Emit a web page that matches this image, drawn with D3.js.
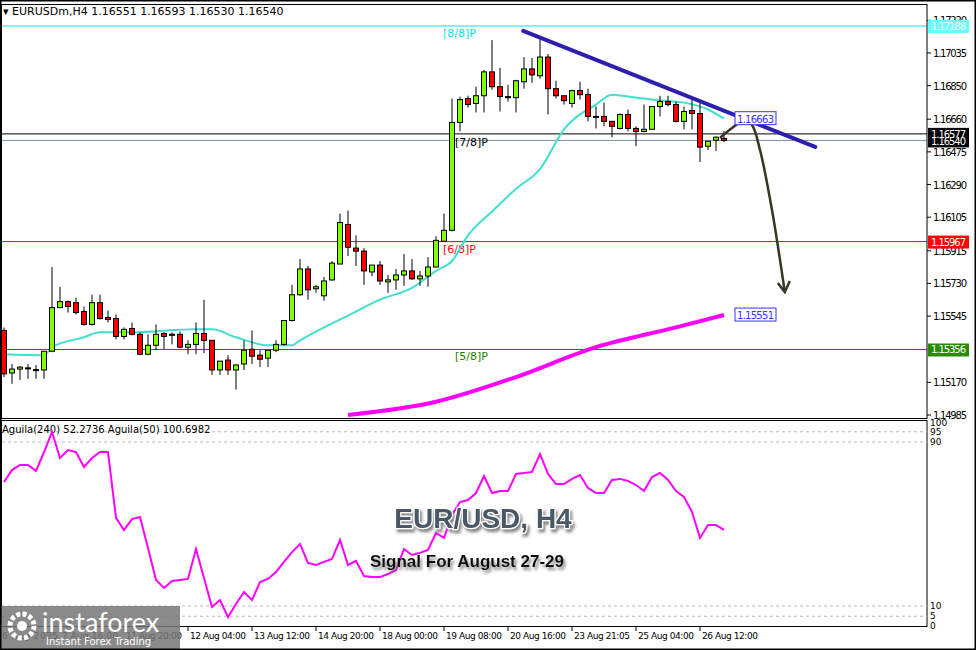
<!DOCTYPE html>
<html><head><meta charset="utf-8">
<script src="https://cdn.jsdelivr.net/npm/d3@7/dist/d3.min.js"></script>
<style>body{margin:0;background:#fff;}svg{display:block;font-family:Tahoma,"DejaVu Sans",sans-serif;}</style>
</head><body><svg id="c" width="976" height="650"></svg>
<script>
const opens=[1.15464,1.15223,1.15245,1.15250,1.15240,1.15240,1.15346,1.15593,1.15627,1.15621,1.15571,1.15498,1.15621,1.15537,1.15531,1.15430,1.15475,1.15442,1.15329,1.15380,1.15447,1.15442,1.15442,1.15369,1.15385,1.15447,1.15408,1.15240,1.15296,1.15240,1.15274,1.15357,1.15324,1.15307,1.15352,1.15385,1.15520,1.15666,1.15812,1.15700,1.15660,1.15750,1.15840,1.16064,1.15930,1.15913,1.15795,1.15834,1.15739,1.15750,1.15778,1.15801,1.15756,1.15772,1.15823,1.15969,1.16031,1.16642,1.16777,1.16749,1.16793,1.16928,1.16844,1.16788,1.16782,1.16872,1.16945,1.16906,1.17012,1.16833,1.16793,1.16749,1.16822,1.16799,1.16676,1.16676,1.16648,1.16608,1.16687,1.16608,1.16591,1.16603,1.16732,1.16760,1.16743,1.16648,1.16709,1.16692,1.16507,1.16541,1.16551];
const closes=[1.15218,1.15245,1.15256,1.15252,1.15242,1.15346,1.15593,1.15627,1.15599,1.15565,1.15498,1.15621,1.15531,1.15526,1.15430,1.15470,1.15442,1.15329,1.15380,1.15442,1.15430,1.15440,1.15369,1.15385,1.15447,1.15408,1.15240,1.15290,1.15240,1.15268,1.15352,1.15318,1.15301,1.15352,1.15385,1.15520,1.15666,1.15812,1.15694,1.15711,1.15744,1.15845,1.16075,1.15935,1.15913,1.15801,1.15834,1.15744,1.15750,1.15778,1.15801,1.15756,1.15772,1.15823,1.15974,1.16031,1.16642,1.16771,1.16743,1.16793,1.16928,1.16844,1.16788,1.16782,1.16878,1.16945,1.16911,1.17012,1.16833,1.16793,1.16765,1.16822,1.16799,1.16676,1.16674,1.16648,1.16620,1.16687,1.16608,1.16591,1.16603,1.16732,1.16760,1.16743,1.16648,1.16704,1.16692,1.16502,1.16535,1.16558,1.16540];
const highs=[1.15481,1.15274,1.15262,1.15274,1.15268,1.15346,1.15823,1.15711,1.15632,1.15649,1.15599,1.15666,1.15666,1.15576,1.15554,1.15481,1.15509,1.15453,1.15442,1.15498,1.15453,1.15453,1.15458,1.15408,1.15509,1.15638,1.15408,1.15290,1.15324,1.15274,1.15408,1.15464,1.15352,1.15352,1.15408,1.15520,1.15722,1.15868,1.15829,1.15722,1.15767,1.15857,1.16126,1.16143,1.16002,1.15930,1.15834,1.15857,1.15778,1.15812,1.15896,1.15868,1.15801,1.15879,1.15997,1.16126,1.16777,1.16788,1.16793,1.16844,1.16939,1.17108,1.16951,1.16855,1.16883,1.17012,1.17007,1.17113,1.17029,1.16878,1.16793,1.16827,1.16872,1.16833,1.16732,1.16754,1.16648,1.16692,1.16715,1.16620,1.16743,1.16732,1.16793,1.16793,1.16760,1.16732,1.16771,1.16754,1.16535,1.16563,1.16593];
const lows=[1.15200,1.15162,1.15184,1.15190,1.15190,1.15190,1.15341,1.15593,1.15565,1.15554,1.15492,1.15492,1.15526,1.15509,1.15413,1.15413,1.15436,1.15324,1.15324,1.15352,1.15357,1.15385,1.15363,1.15329,1.15329,1.15335,1.15212,1.15212,1.15212,1.15128,1.15240,1.15274,1.15256,1.15256,1.15341,1.15380,1.15515,1.15660,1.15638,1.15677,1.15632,1.15745,1.15840,1.15885,1.15829,1.15722,1.15772,1.15722,1.15677,1.15694,1.15716,1.15750,1.15716,1.15711,1.15820,1.15965,1.16025,1.16591,1.16726,1.16698,1.16698,1.16827,1.16704,1.16760,1.16698,1.16833,1.16866,1.16889,1.16687,1.16777,1.16743,1.16726,1.16771,1.16648,1.16608,1.16620,1.16558,1.16603,1.16591,1.16507,1.16586,1.16603,1.16676,1.16732,1.16642,1.16603,1.16603,1.16418,1.16485,1.16479,1.16530];
const maFastIdx=[0,5,6,10,12,16,24,26,29,33,36,37,39,43,47,51,54,56,58,61,64,67,70,74,76,78,82,85,88,90];
const maFastVal=[1.15329,1.15324,1.15369,1.15425,1.15453,1.15453,1.15470,1.15470,1.15425,1.15380,1.15380,1.15408,1.15458,1.15548,1.15638,1.15705,1.15801,1.15857,1.16002,1.16137,1.16266,1.16378,1.16603,1.16743,1.16799,1.16788,1.16766,1.16754,1.16715,1.16663];
const maSlowIdx=[43,54,64,74,84,90];
const maSlowVal=[1.14985,1.15060,1.15200,1.15369,1.15481,1.15551];
const aguila=[70.5,76.3,78.8,78.8,75.9,85,94.9,82.2,86.1,85.1,77.8,82.2,85.1,85.1,53.0,47.1,52.4,53.4,38.3,22.7,18.8,22.2,22.7,23.2,37.8,23.7,9.5,12.9,4.6,11.0,16.8,12.9,21.7,23.2,26.6,31.5,36.3,40.2,31.0,30.0,31.5,32.9,42.2,30.0,32.0,24.6,24.1,24.1,25.6,27.6,37.8,34.9,35.9,37.3,45.6,43.2,54.4,60.7,61.7,65.1,73.4,65.1,66.1,66.1,74.4,74.9,75.4,84.1,74.4,69.5,69.5,72.0,73.9,67.6,65.1,65.1,71.5,72.0,71.0,69.0,66.1,72.9,74.9,71.5,66.1,63.2,55.9,43.2,49.5,49.5,47.1];
const priceTicks=[1.17220,1.17035,1.16850,1.16660,1.16475,1.16290,1.16105,1.15915,1.15730,1.15545,1.15170,1.14985];
const timeIdx=[-0.5,7,15,23,31,39,47,55,63,71,79,87];
const timeLabels=["6 Aug 2025","7 Aug 16:00","11 Aug 20:00","12 Aug 04:00","13 Aug 12:00","14 Aug 20:00","18 Aug 00:00","19 Aug 08:00","20 Aug 16:00","23 Aug 21:05","25 Aug 04:00","26 Aug 12:00"];
const levels=[{p:1.17188,c:"#00e5e5",t:"[8/8]P",lx:443,box:"#66ffff",bt:"#fff"},{p:1.15967,c:"#ff0000",t:"[6/8]P",lx:443,box:"#ff0000",bt:"#fff"},{p:1.15356,c:"#1a8000",t:"[5/8]P",lx:455,box:"#2a8a00",bt:"#fff"}];
const trend=[[64.9,1.17160],[101.4,1.16503]];
const arrowIdx=[89.5,91,92.6,93.5,94.5,96,97.6];
const arrowVal=[1.16554,1.16610,1.16655,1.16627,1.16486,1.16146,1.15681];
const indTicks=[100,95,90,10,5,0];

const svg=d3.select("#c");
const x=d3.scaleLinear().domain([0,90]).range([4,724]);
const y=d3.scaleLinear().domain([1.14985,1.17035]).range([415,53]);
const yi=d3.scaleLinear().domain([0,100]).range([626.5,421.5]);
const R=927;
const defs=svg.append("defs");
defs.append("clipPath").attr("id","mc").append("rect").attr("x",2).attr("y",4).attr("width",R-2).attr("height",414);
const f=defs.append("filter").attr("id","sh").attr("x","-10%").attr("y","-30%").attr("width","130%").attr("height","180%");
f.append("feDropShadow").attr("dx",2).attr("dy",3).attr("stdDeviation",1.5).attr("flood-color","#666").attr("flood-opacity",0.8);
svg.append("rect").attr("x",0).attr("y",0).attr("width",976).attr("height",650).attr("fill","#fff");
const g=svg.append("g").attr("clip-path","url(#mc)");
g.append("line").attr("x1",0).attr("x2",R).attr("y1",y(1.16577)).attr("y2",y(1.16577)).attr("stroke","#000");
g.append("line").attr("x1",0).attr("x2",R).attr("y1",y(1.16540)).attr("y2",y(1.16540)).attr("stroke","#7f8fa8");
levels.forEach(l=>{g.append("line").attr("x1",0).attr("x2",R).attr("y1",y(l.p)).attr("y2",y(l.p)).attr("stroke",l.c);
 g.append("text").attr("x",l.lx).attr("y",y(l.p)+11).attr("fill",l.c).attr("font-size",11).text(l.t);});
g.append("text").attr("x",455).attr("y",y(1.16577)+12).attr("fill","#000").attr("font-size",11).text("[7/8]P");
const line=d3.line().curve(d3.curveMonotoneX);
g.append("path").attr("d",line(maSlowIdx.map((d,i)=>[x(d),y(maSlowVal[i])]))).attr("fill","none").attr("stroke","#ff00ff").attr("stroke-width",4);
g.append("path").attr("d",line(maFastIdx.map((d,i)=>[x(d),y(maFastVal[i])]))).attr("fill","none").attr("stroke","#40e0d0").attr("stroke-width",2);
opens.forEach((o,i)=>{const c=closes[i],cx=x(i);
 g.append("line").attr("x1",cx).attr("x2",cx).attr("y1",y(highs[i])).attr("y2",y(lows[i])).attr("stroke","#000");
 const t=y(Math.max(o,c)),b=y(Math.min(o,c));
 g.append("rect").attr("x",cx-2.5).attr("y",t).attr("width",5).attr("height",Math.max(1,b-t)).attr("fill",c>=o?"#80ff00":"#ff0000").attr("stroke","#000").attr("stroke-width",1);});
g.append("line").attr("x1",x(trend[0][0])).attr("y1",y(trend[0][1])).attr("x2",x(trend[1][0])).attr("y2",y(trend[1][1])).attr("stroke","#2b1fb0").attr("stroke-width",4).attr("stroke-linecap","round");
const ap=arrowIdx.map((d,i)=>[x(d),y(arrowVal[i])]);
g.append("path").attr("d",d3.line().curve(d3.curveCatmullRom)(ap)).attr("fill","none").attr("stroke","#3a3420").attr("stroke-width",2.5);
const e=ap[ap.length-1];
g.append("path").attr("d",`M${e[0]-7},${e[1]-9}L${e[0]},${e[1]}L${e[0]+5},${e[1]-11}`).attr("fill","none").attr("stroke","#3a3420").attr("stroke-width",2.5);
[[1.16663,"1.16663"],[1.15551,"1.15551"]].forEach(d=>{g.append("rect").attr("x",735).attr("y",y(d[0])-7).attr("width",41).attr("height",13).attr("fill","#fff").attr("stroke","#3333ff");
 g.append("text").attr("x",737).attr("y",y(d[0])+4).attr("font-size",10).attr("textLength",37).attr("fill","#3333ff").text(d[1]);});
svg.append("rect").attr("x",1.5).attr("y",4.5).attr("width",R-1.5).attr("height",414).attr("fill","none").attr("stroke","#000");
priceTicks.forEach(p=>{svg.append("line").attr("x1",R).attr("x2",R+4).attr("y1",y(p)).attr("y2",y(p)).attr("stroke","#000");
 svg.append("text").attr("x",R+6).attr("y",y(p)+4).attr("font-size",10).attr("textLength",34).attr("fill","#000").text(p.toFixed(5));});
levels.forEach(l=>{svg.append("rect").attr("x",R+1).attr("y",y(l.p)-6).attr("width",41).attr("height",13).attr("fill",l.box);
 svg.append("text").attr("x",R+4).attr("y",y(l.p)+4).attr("font-size",10).attr("textLength",35).attr("fill",l.bt).text(l.p.toFixed(5));});
svg.append("rect").attr("x",R+1).attr("y",y(1.16577)-6).attr("width",41).attr("height",y(1.16540)-y(1.16577)+13).attr("fill","#000");
svg.append("text").attr("x",R+4).attr("y",y(1.16577)+4).attr("font-size",10).attr("textLength",35).attr("fill","#fff").text("1.16577");
svg.append("text").attr("x",R+4).attr("y",y(1.16540)+5).attr("font-size",10).attr("textLength",35).attr("fill","#fff").text("1.16540");
svg.append("text").attr("x",3).attr("y",15).attr("font-size",11).attr("fill","#000").text("▾ EURUSDm,H4  1.16551 1.16593 1.16530 1.16540");
svg.append("rect").attr("x",1.5).attr("y",420.5).attr("width",R-1.5).attr("height",206).attr("fill","none").attr("stroke","#000");
indTicks.forEach(v=>{ if(v!==100&&v!==0) svg.append("line").attr("x1",2).attr("x2",R).attr("y1",yi(v)).attr("y2",yi(v)).attr("stroke","#bbb").attr("stroke-dasharray","3,3");
 svg.append("text").attr("x",R+3).attr("y",yi(v)+(v===100?4:v===0?2:3)).attr("font-size",9).attr("fill","#000").text(v);});
svg.append("text").attr("x",2).attr("y",433).attr("font-size",10).attr("fill","#000").text("Aguila(240) 52.2736  Aguila(50) 100.6982");
svg.append("path").attr("d",d3.line()(aguila.map((v,i)=>[x(i),yi(v)]))).attr("fill","none").attr("stroke","#ff00ff").attr("stroke-width",2);
timeIdx.forEach((t,i)=>{const tx=x(t);svg.append("line").attr("x1",tx).attr("x2",tx).attr("y1",627).attr("y2",631).attr("stroke","#000");
 svg.append("text").attr("x",tx+2).attr("y",639).attr("font-size",9).attr("textLength",56).attr("fill","#000").text(timeLabels[i]);});
svg.append("text").attr("x",483).attr("y",528).attr("text-anchor","middle").attr("font-size",28).attr("font-weight","bold").attr("font-family","Liberation Sans,Arial,sans-serif")
 .attr("fill","#4a5866").attr("stroke","#fff").attr("stroke-width",2.5).attr("paint-order","stroke").attr("filter","url(#sh)").text("EUR/USD, H4");
svg.append("text").attr("x",467).attr("y",567).attr("text-anchor","middle").attr("font-size",17).attr("font-weight","bold").attr("font-family","Liberation Sans,Arial,sans-serif")
 .attr("fill","#111").attr("filter","url(#sh)").text("Signal For August 27-29");
svg.append("rect").attr("x",0).attr("y",606).attr("width",180).attr("height",44).attr("fill","#777").attr("opacity",0.85);
const gear=svg.append("g").attr("transform","translate(22,626)");
gear.append("circle").attr("r",12).attr("fill","none").attr("stroke","#fff").attr("stroke-width",5).attr("stroke-dasharray","4,2.3");
gear.append("circle").attr("r",5).attr("fill","#fff");
svg.append("text").attr("x",42).attr("y",632).attr("font-size",27).attr("fill","#fff").attr("font-family","Lato,sans-serif").text("instaforex");
svg.append("text").attr("x",46).attr("y",645).attr("font-size",10).attr("fill","#fff").text("Instant Forex Trading");
svg.append("rect").attr("x",0).attr("y",0).attr("width",976).attr("height",650).attr("fill","none").attr("stroke","#000").attr("stroke-width",3);
</script></body></html>
